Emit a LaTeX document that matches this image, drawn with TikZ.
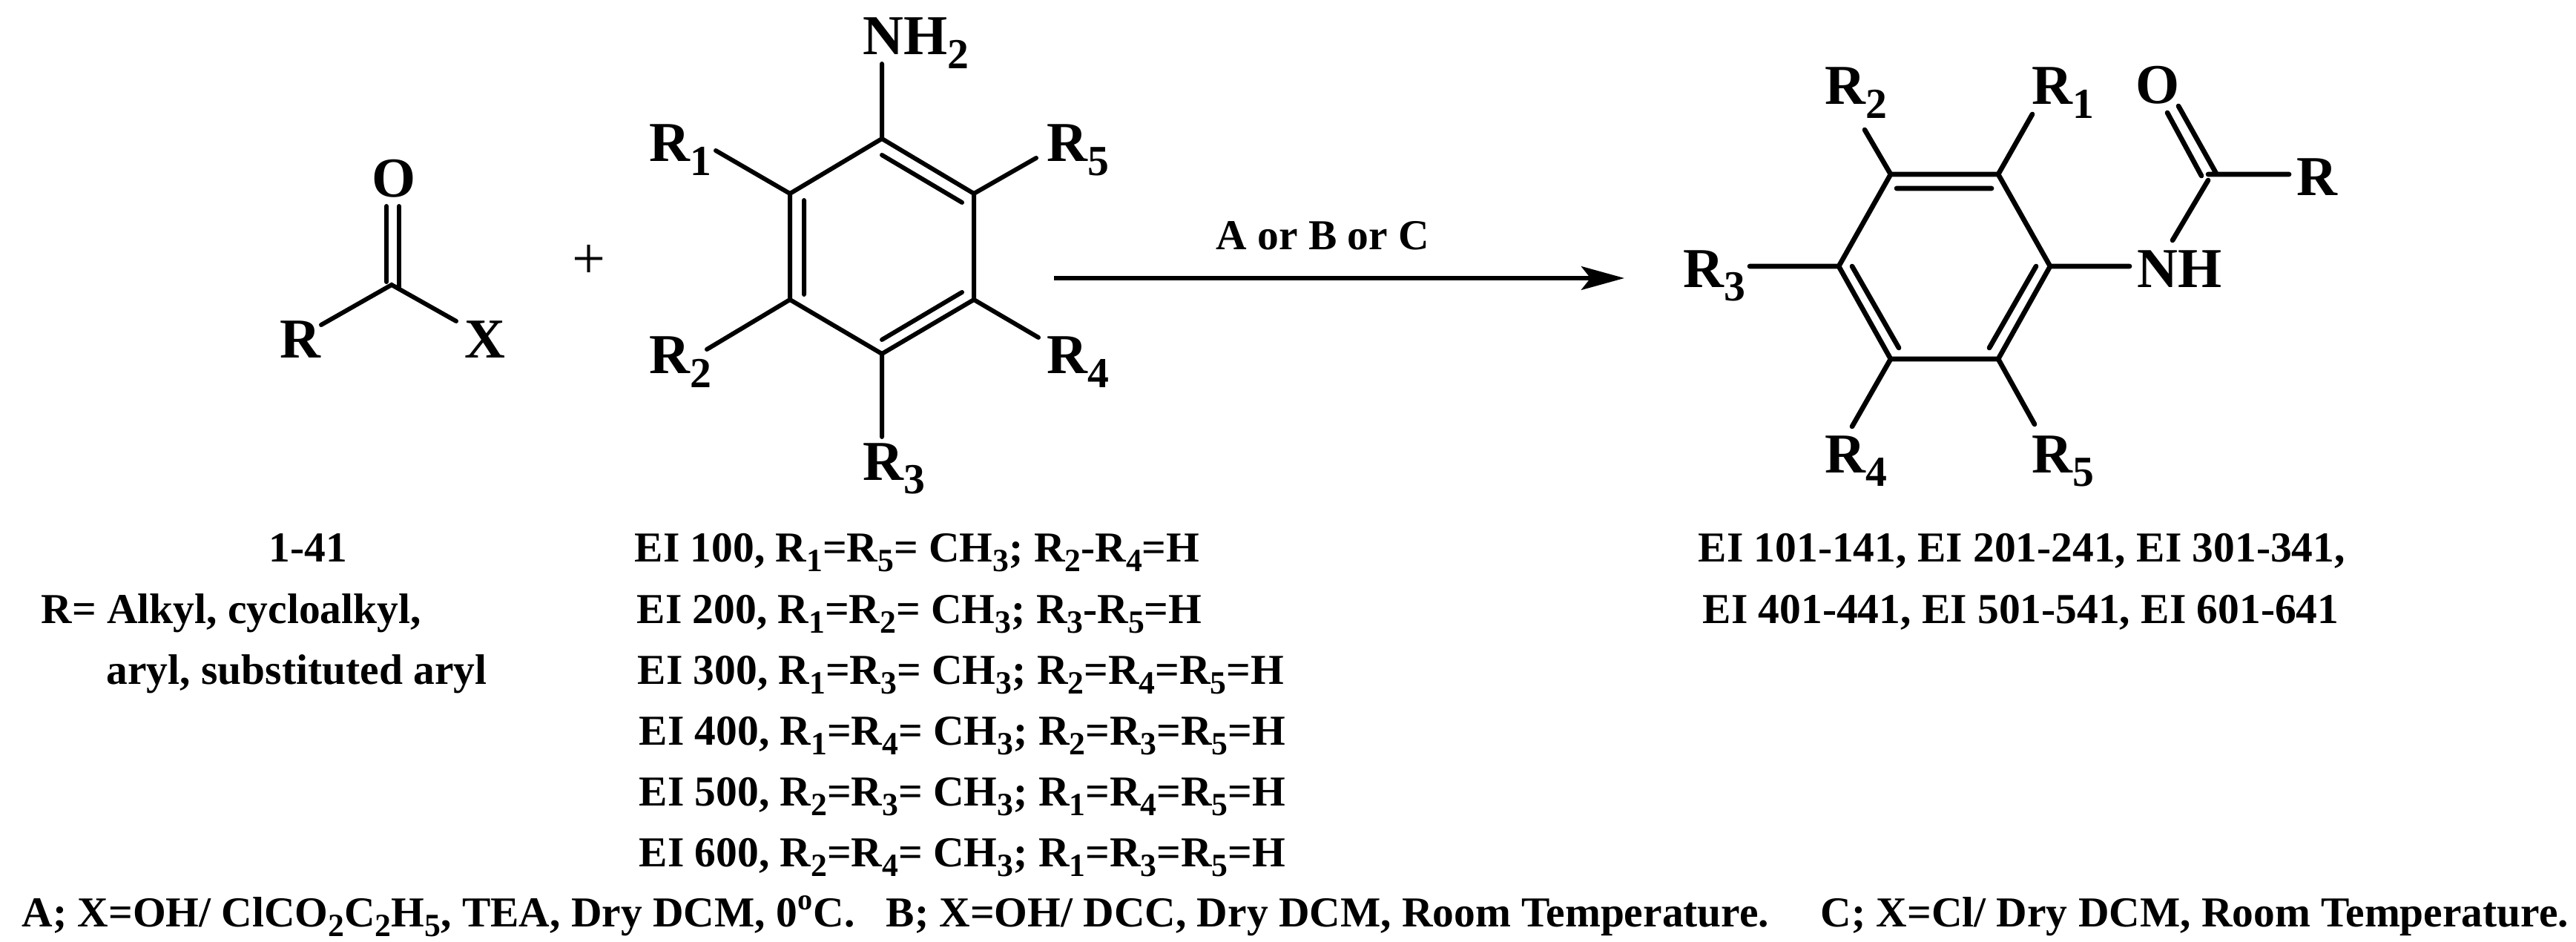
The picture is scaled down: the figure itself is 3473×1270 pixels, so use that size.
\documentclass[tikz,border=0pt]{standalone}
\usepackage{fontspec}
\setmainfont{Liberation Serif}
\usetikzlibrary{arrows.meta}
\tikzset{
  >={Stealth[length=16.5pt,width=9pt,inset=3.5pt]},
}
\tikzstyle{every node}=[font=\bfseries,inner sep=0pt,anchor=base west]
\tikzstyle{atom}=[font=\fontsize{21.6}{24}\bfseries\selectfont]
\tikzstyle{row}=[font=\fontsize{16.35}{18}\bfseries\selectfont]
\tikzstyle{bond}=[line width=1.7pt,line cap=round]
\tikzstyle{bondr}=[line width=1.9pt,line cap=round]
\newcommand{\Rs}[1]{R\textsubscript{#1}}
\renewcommand{\textsubscript}[1]{\raisebox{-.24em}{\scalebox{.76}{#1}}}

\begin{document}
\begin{tikzpicture}[x=.01cm,y=-.01cm]
    \useasboundingbox (0,0) rectangle (3473,1270);
    % acid part
    \coordinate (cc) at (528,384);
    \coordinate (ccr) at (433,438);
    \coordinate (ccx) at (615,433);
    \coordinate (coa) at (521,278);
    \coordinate (cob) at (538,278);
    \coordinate (cca) at (521,380);
    \coordinate (ccb) at (538,388);
    \node[atom] (lblO) at (501,266) {O};
    \node[atom] (lblR) at (377,482) {R};
    \node[atom] (lblX) at (626,482) {X};
    \draw[bond] (ccr)--(cc)--(ccx);
    \draw[bond] (cca)--(coa) (ccb)--(cob);
    \node[font=\fontsize{22.7}{24}\selectfont,anchor=center] (plus) at (794,353) {+};
    % aniline ring
    \coordinate (a1) at (1189,187);
    \coordinate (a2) at (1313,261);
    \coordinate (a3) at (1313,404);
    \coordinate (a4) at (1189,477);
    \coordinate (a5) at (1065,404);
    \coordinate (a6) at (1065,261);
    \draw[bond,line join=round] (a1)--(a2)--(a3)--(a4)--(a5)--(a6)--cycle;
    \coordinate (ai1) at (1189,209);
    \coordinate (ai2) at (1297,273);
    \coordinate (ai3) at (1297,394);
    \coordinate (ai4) at (1189,458);
    \coordinate (ai5) at (1084,397);
    \coordinate (ai6) at (1084,270);
    \draw[bond] (ai1)--(ai2) (ai3)--(ai4) (ai5)--(ai6);
    \coordinate (anh) at (1189,86);
    \coordinate (ar1) at (965,203);
    \coordinate (ar5) at (1397,213);
    \coordinate (ar4) at (1400,455);
    \coordinate (ar2) at (953,471);
    \coordinate (ar3) at (1189,589);
    \draw[bond] (a1)--(anh) (a6)--(ar1) (a2)--(ar5) (a3)--(ar4) (a5)--(ar2) (a4)--(ar3);
    \node[atom] (lblNHa) at (1163,74) {NH\textsubscript{2}};
    \node[atom] (lblRa1) at (875,218) {\Rs{1}};
    \node[atom] (lblRa5) at (1411,218) {\Rs{5}};
    \node[atom] (lblRa2) at (875,504) {\Rs{2}};
    \node[atom] (lblRa4) at (1411,504) {\Rs{4}};
    \node[atom] (lblRa3) at (1163,647) {\Rs{3}};
    % reaction arrow
    \coordinate (arrA) at (1421,375);
    \coordinate (arrB) at (2190,375);
    \draw[->,line width=1.7pt] (arrA)--(arrB);
    \node[row] (cond) at (1639,337) {A or B or C};
    % product ring
    \coordinate (p1) at (2549,235);
    \coordinate (p2) at (2694,235);
    \coordinate (p3) at (2764,359);
    \coordinate (p4) at (2694,484);
    \coordinate (p5) at (2549,484);
    \coordinate (p6) at (2479,359);
    \draw[bondr,line join=round] (p1)--(p2)--(p3)--(p4)--(p5)--(p6)--cycle;
    \coordinate (pi1) at (2557,254);
    \coordinate (pi2) at (2685,254);
    \coordinate (pi3) at (2745,359);
    \coordinate (pi4) at (2682,469);
    \coordinate (pi5) at (2560,469);
    \coordinate (pi6) at (2497,359);
    \draw[bondr] (pi1)--(pi2) (pi3)--(pi4) (pi5)--(pi6);
    \coordinate (pr2) at (2514,175);
    \coordinate (pr1) at (2740,154);
    \coordinate (pr3) at (2359,359);
    \coordinate (pr4) at (2497,575);
    \coordinate (pr5) at (2743,572);
    \coordinate (pnh) at (2871,359);
    \draw[bondr] (p1)--(pr2) (p2)--(pr1) (p6)--(pr3) (p5)--(pr4) (p4)--(pr5) (p3)--(pnh);
    % amide
    \coordinate (pnc) at (2929,324);
    \coordinate (pc) at (2977,243);
    \coordinate (pca) at (2977,235);
    \coordinate (pcr) at (3086,235);
    \coordinate (poa) at (2922,152);
    \coordinate (pob) at (2937,143);
    \coordinate (pca2) at (2968,237);
    \coordinate (pcb2) at (2988,234);
    \draw[bondr] (pnc)--(pc) (pca)--(pcr) (poa)--(pca2) (pob)--(pcb2);
    \node[atom] (lblRp2) at (2460,141) {\Rs{2}};
    \node[atom] (lblRp1) at (2739,141) {\Rs{1}};
    \node[atom] (lblOp) at (2879,140) {O};
    \node[atom] (lblRp) at (3096,264) {R};
    \node[atom] (lblRp3) at (2269,387) {\Rs{3}};
    \node[atom] (lblNHp) at (2881,387) {NH};
    \node[atom] (lblRp4) at (2460,637) {\Rs{4}};
    \node[atom] (lblRp5) at (2739,637) {\Rs{5}};
    % text rows
    \node[row] (acid) at (362,757) {1-41};
    \node[row] (rdefa) at (55,840) {R= Alkyl, cycloalkyl,};
    \node[row] (rdefb) at (143,922) {aryl, substituted aryl};
    \node[row] (ei1) at (855,757) {EI 100, \Rs{1}=\Rs{5}= CH\textsubscript{3}; \Rs{2}-\Rs{4}=H};
    \node[row] (ei2) at (858,840) {EI 200, \Rs{1}=\Rs{2}= CH\textsubscript{3}; \Rs{3}-\Rs{5}=H};
    \node[row] (ei3) at (859,922) {EI 300, \Rs{1}=\Rs{3}= CH\textsubscript{3}; \Rs{2}=\Rs{4}=\Rs{5}=H};
    \node[row] (ei4) at (861,1004) {EI 400, \Rs{1}=\Rs{4}= CH\textsubscript{3}; \Rs{2}=\Rs{3}=\Rs{5}=H};
    \node[row] (ei5) at (861,1086) {EI 500, \Rs{2}=\Rs{3}= CH\textsubscript{3}; \Rs{1}=\Rs{4}=\Rs{5}=H};
    \node[row] (ei6) at (861,1168) {EI 600, \Rs{2}=\Rs{4}= CH\textsubscript{3}; \Rs{1}=\Rs{3}=\Rs{5}=H};
    \node[row] (proda) at (2289,757) {EI 101-141, EI 201-241, EI 301-341,};
    \node[row] (prodb) at (2295,840) {EI 401-441, EI 501-541, EI 601-641};
    \node[row] (meta) at (29,1249) {A; X=OH/ ClCO\textsubscript{2}C\textsubscript{2}H\textsubscript{5}, TEA, Dry DCM, 0\textsuperscript{o}C.};
    \node[row] (metb) at (1194,1249) {B; X=OH/ DCC, Dry DCM, Room Temperature.};
    \node[row] (metc) at (2454,1249) {C; X=Cl/ Dry DCM, Room Temperature.};
  \end{tikzpicture}
\end{document}
